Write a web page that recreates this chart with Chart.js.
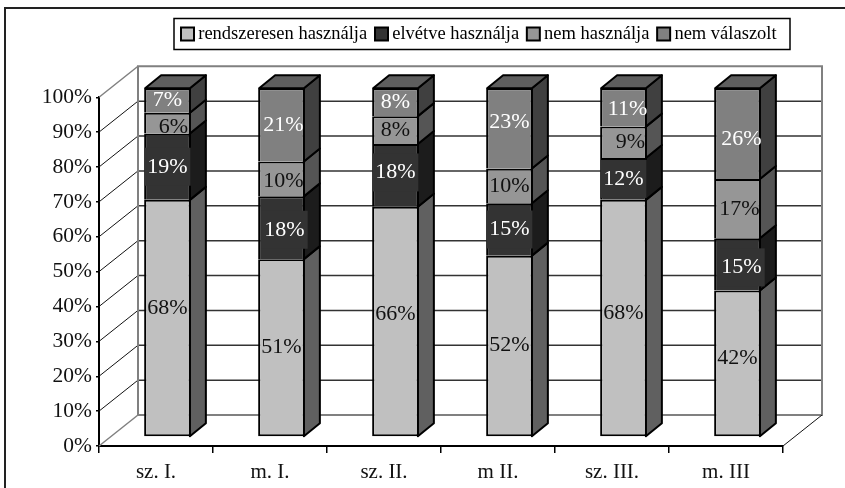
<!DOCTYPE html>
<html>
<head>
<meta charset="utf-8">
<script src="https://cdn.jsdelivr.net/npm/chart.js@4"></script>
<style>
html, body { margin: 0; padding: 0; background: #fff; overflow: hidden; }
#wrap { width: 845px; height: 488px; }
</style>
</head>
<body>
<div id="wrap"><canvas id="dataChart" width="845" height="488"></canvas></div>
<script>
const categories = ['sz. I.', 'm. I.', 'sz. II.', 'm II.', 'sz. III.', 'm. III'];
const rendszeresen = [68, 51, 66, 52, 68, 42];
const elvetve = [19, 18, 18, 15, 12, 15];
const nemHasznalja = [6, 10, 8, 10, 9, 17];
const nemValaszolt = [7, 21, 8, 23, 11, 26];

const seriesNames = ['rendszeresen használja', 'elvétve használja', 'nem használja', 'nem válaszolt'];
const frontColors = ['#c0c0c0', '#333333', '#969696', '#808080'];
const sideColors = ['#606060', '#1c1c1c', '#555555', '#404040'];
const labelColors = ['#111', '#fff', '#111', '#fff'];
const FONT = '"Liberation Serif", "Times New Roman", serif';

// depth of the wall and of the bars (the fake 3D)
const WALL = {dx: 39, dy: -31};
const BAR = {dx: 16, dy: -13};
const SHIFT = {x: 11.5, y: -9};

// hand placed labels, "series,category": [dx, dy] from the middle of the segment
const labelNudge = {
	'0,0': [0, -10], '0,2': [0, -7], '0,3': [0, -1], '0,4': [0, -5], '0,5': [0, -5],
	'1,1': [3, 2], '1,2': [0, -3], '1,5': [4, 3],
	'2,0': [6, 4], '2,1': [2, 2], '2,4': [7, 0], '2,5': [2, 1],
	'3,1': [2, 0], '3,3': [0, -6], '3,4': [4, 2], '3,5': [4, 6]
};

var walls3d = {
	id: 'walls3d',
	beforeDatasetsDraw(chart) {
		let c = chart.ctx, x = chart.scales.x, y = chart.scales.y;
		c.save();
		y.ticks.forEach(function(t, i) {
			let py = y.getPixelForValue(t.value);
			let edge = (i == 0 || i == y.ticks.length - 1);
			c.beginPath();
			c.moveTo(x.left, py);
			c.lineTo(x.left + WALL.dx, py + WALL.dy);
			c.strokeStyle = edge ? '#808080' : '#111';
			c.lineWidth = edge ? 1.5 : 1;
			c.stroke();
			if (!edge) {
				c.beginPath();
				c.moveTo(x.left + WALL.dx, py + WALL.dy);
				c.lineTo(x.right + WALL.dx, py + WALL.dy);
				c.strokeStyle = '#333';
				c.lineWidth = 1.5;
				c.stroke();
			}
		});
		// back wall frame
		c.strokeStyle = '#808080';
		c.lineWidth = 2;
		c.strokeRect(x.left + WALL.dx, y.top + WALL.dy, x.right - x.left, y.bottom - y.top);
		c.beginPath();
		c.moveTo(x.right, y.bottom);
		c.lineTo(x.right + WALL.dx, y.bottom + WALL.dy);
		c.strokeStyle = '#111';
		c.lineWidth = 1;
		c.stroke();
		// side and top faces of the bars
		c.translate(SHIFT.x, SHIFT.y);
		c.strokeStyle = '#000';
		c.lineWidth = 2;
		c.lineJoin = 'round';
		chart.data.datasets.forEach(function(ds, d) {
			chart.getDatasetMeta(d).data.forEach(function(bar) {
				let r = bar.x + bar.width / 2 - 1, l = bar.x - bar.width / 2 + 1;
				c.beginPath();
				c.moveTo(r, bar.base);
				c.lineTo(r + BAR.dx, bar.base + BAR.dy);
				c.lineTo(r + BAR.dx, bar.y + BAR.dy);
				c.lineTo(r, bar.y);
				c.closePath();
				c.fillStyle = sideColors[d];
				c.fill();
				c.stroke();
				if (d == chart.data.datasets.length - 1) {
					c.beginPath();
					c.moveTo(l, bar.y);
					c.lineTo(l + BAR.dx, bar.y + BAR.dy);
					c.lineTo(r + BAR.dx, bar.y + BAR.dy);
					c.lineTo(r, bar.y);
					c.closePath();
					c.fillStyle = '#5e5e5e';
					c.fill();
					c.stroke();
				}
			});
		});
		c.restore();
	},
	beforeDatasetDraw(chart) {
		chart.ctx.save();
		chart.ctx.translate(SHIFT.x, SHIFT.y);
	},
	afterDatasetDraw(chart) {
		chart.ctx.restore();
	},
	afterDatasetsDraw(chart) {
		let c = chart.ctx;
		c.save();
		c.font = '22px ' + FONT;
		c.textAlign = 'center';
		c.textBaseline = 'middle';
		chart.data.datasets.forEach(function(ds, d) {
			chart.getDatasetMeta(d).data.forEach(function(bar, i) {
				let txt = ds.data[i] + '%';
				let n = labelNudge[d + ',' + i] || [0, 0];
				let px = bar.x + SHIFT.x + n[0], py = (bar.y + bar.base) / 2 + SHIFT.y + n[1];
				if (d == 1) {
					// the label box of the dark series covers the bar edge
					let w = c.measureText(txt).width + 6;
					c.fillStyle = frontColors[1];
					c.fillRect(px - w / 2, py - 19, w, 38);
				}
				c.fillStyle = labelColors[d];
				c.fillText(txt, px, py);
			});
		});
		c.restore();
	},
	afterLayout(chart) {
		let lg = chart.legend;
		lg.left = 173.25;
		lg.right = 845;
		lg.top = 12;
		lg.bottom = 56;
	},
	afterDraw(chart) {
		let c = chart.ctx;
		c.save();
		c.strokeStyle = '#000';
		c.lineWidth = 1.5;
		c.strokeRect(174, 18.5, 616, 31);
		c.strokeStyle = '#222';
		c.lineWidth = 2;
		c.strokeRect(5, 8, 900, 600);
		c.restore();
	}
};

var myChart = new Chart(document.getElementById('dataChart').getContext('2d'), {
	type: 'bar',
	data: {
		labels: categories,
		datasets: [rendszeresen, elvetve, nemHasznalja, nemValaszolt].map(function(vals, i) {
			return {
				label: seriesNames[i],
				data: vals,
				backgroundColor: frontColors[i],
				borderColor: '#000',
				borderSkipped: false,
				inflateAmount: 0,
				borderWidth: {top: 2, left: 2, right: 2, bottom: i == 0 ? 2 : 0},
				barPercentage: 0.41,
				categoryPercentage: 1
			};
		})
	},
	options: {
		responsive: false,
		animation: false,
		events: [],
		layout: {padding: {left: 0, top: 56, right: 62, bottom: 0}},
		scales: {
			x: {
				stacked: true,
				afterFit: function(s) { s.height = 42; },
				border: {color: '#000', width: 2},
				grid: {offset: true, drawOnChartArea: false, color: '#000', lineWidth: 1.5, tickLength: 7},
				ticks: {color: '#111', font: {family: FONT, size: 21}, padding: 7, maxRotation: 0}
			},
			y: {
				stacked: true,
				min: 0,
				max: 100,
				afterFit: function(s) { s.width = 99; },
				border: {color: '#000', width: 2},
				grid: {drawOnChartArea: false, color: '#000', lineWidth: 1.5, tickLength: 3},
				ticks: {
					stepSize: 10,
					color: '#111',
					font: {family: FONT, size: 21.5},
					padding: 4,
					callback: function(v) { return v + '%'; }
				}
			}
		},
		plugins: {
			tooltip: {enabled: false},
			legend: {
				position: 'top',
				align: 'start',
				labels: {
					font: {family: FONT, size: 18.5},
					color: '#111',
					usePointStyle: true,
					boxWidth: 3,
					boxHeight: 13,
					padding: 12.75,
					generateLabels: function() {
						return seriesNames.map(function(n, i) {
							return {text: n, fillStyle: frontColors[i], strokeStyle: '#000', lineWidth: 2, pointStyle: 'rect', datasetIndex: i};
						});
					}
				}
			}
		}
	},
	plugins: [walls3d]
});
</script>
</body>
</html>
